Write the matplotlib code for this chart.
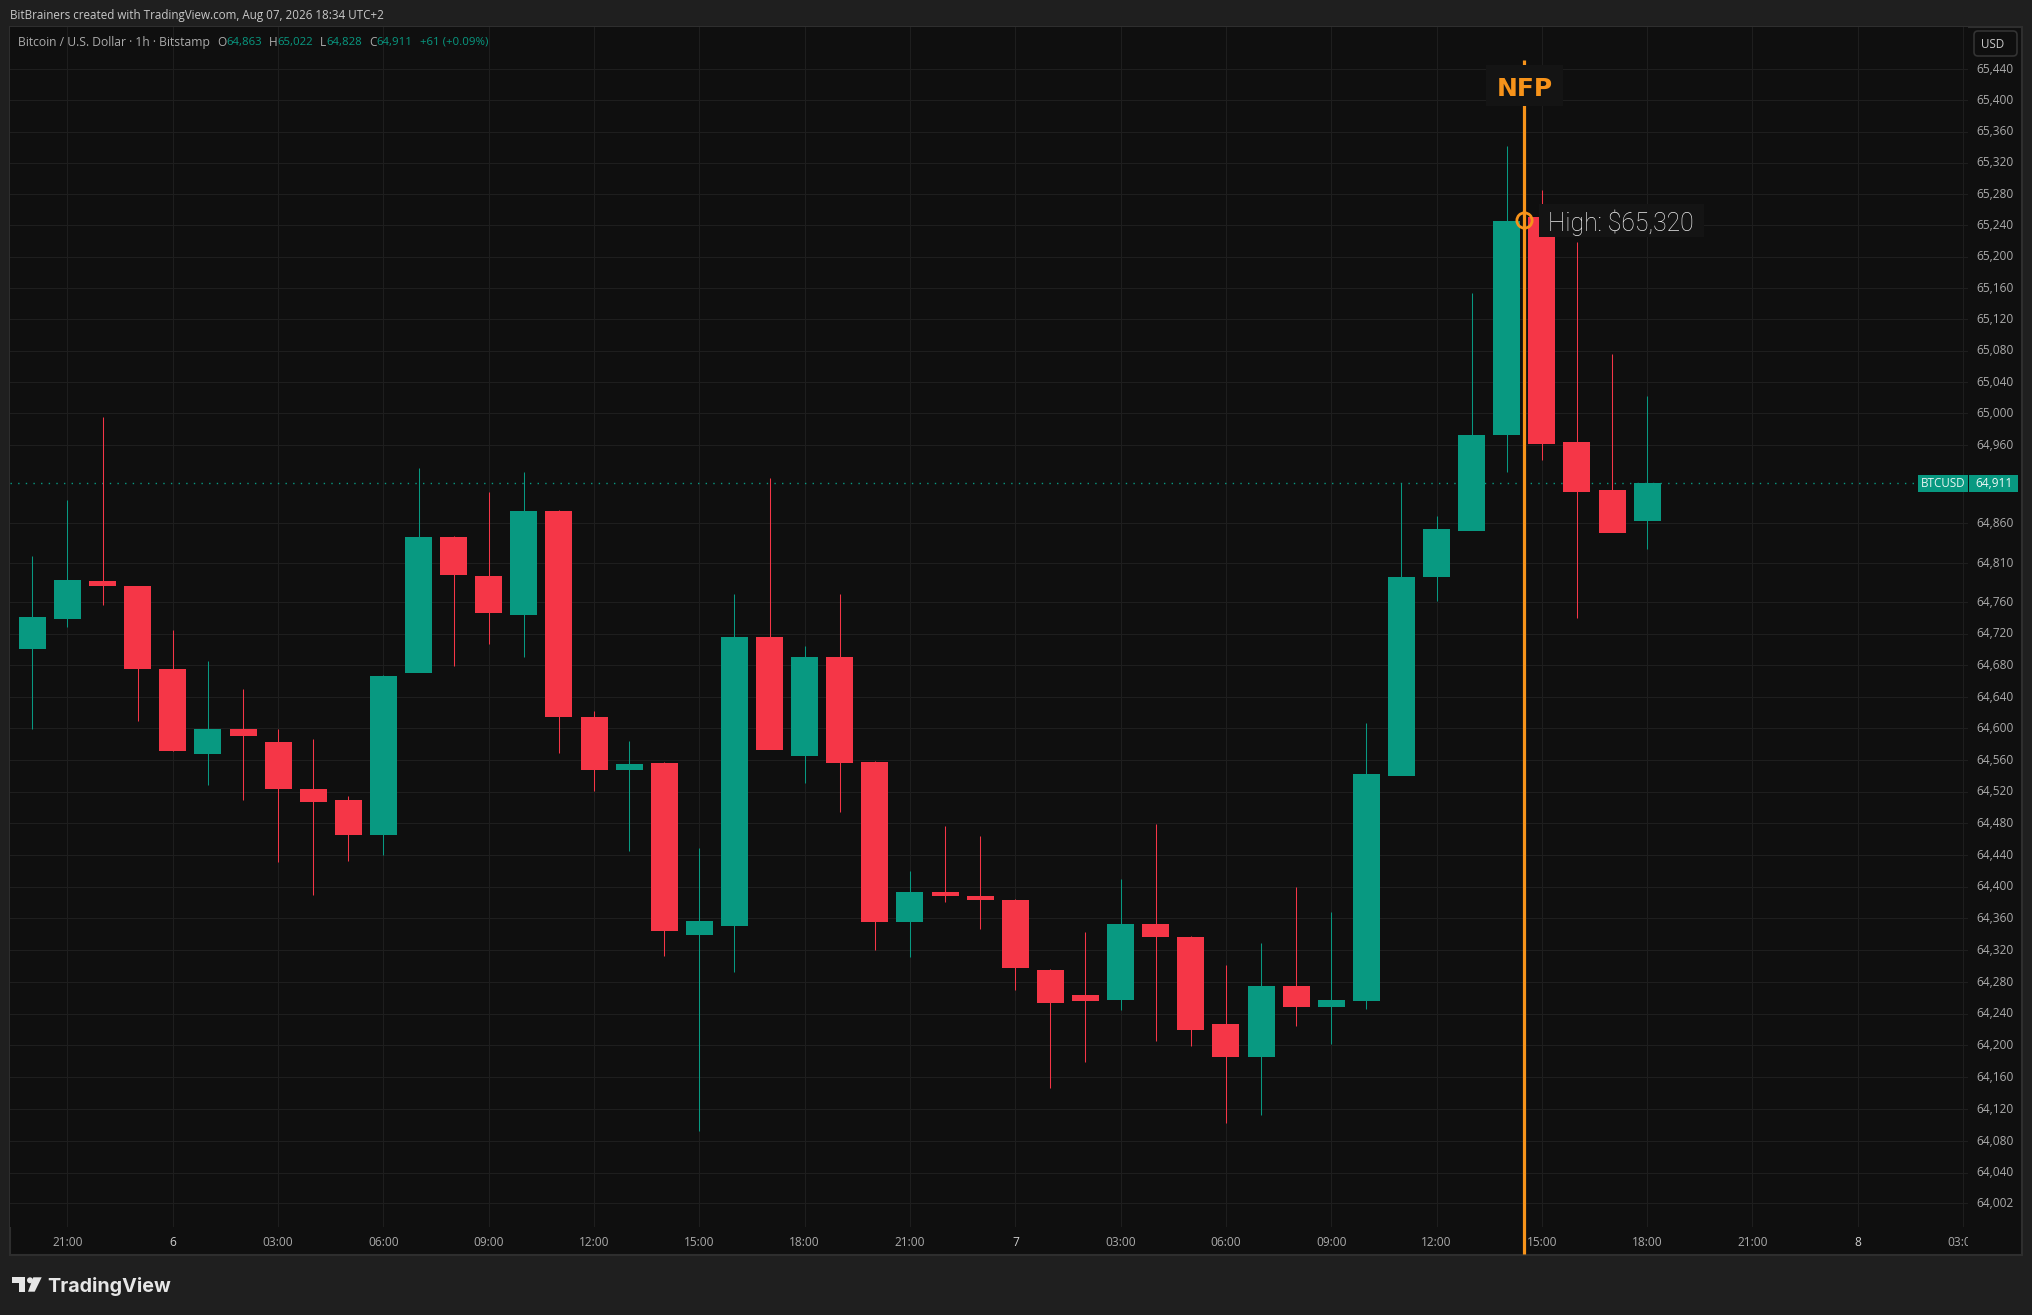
import matplotlib
matplotlib.use("Agg")
import matplotlib.pyplot as plt
from matplotlib.patches import Rectangle, FancyBboxPatch, Polygon, Circle
from matplotlib.ticker import NullLocator, NullFormatter
from matplotlib.transforms import Bbox, IdentityTransform, ScaledTranslation

W, H = 2032, 1315

# hourly candles, first one is 20:00 on the 5th
opens = [64700, 64739, 64787, 64780, 64675, 64568, 64599, 64583, 64524, 64509, 64465, 64670,
         64843, 64793, 64744, 64876, 64614, 64548, 64556, 64339, 64350, 64716, 64565, 64691,
         64558, 64355, 64393, 64388, 64383, 64295, 64264, 64257, 64353, 64337, 64227, 64186,
         64275, 64248, 64256, 64540, 64792, 64851, 64973, 65251, 64963, 64902, 64863]
highs = [64819, 64890, 64995, 64781, 64725, 64686, 64650, 64599, 64586, 64515, 64668, 64931,
         64844, 64900, 64926, 64877, 64622, 64584, 64557, 64449, 64770, 64918, 64704, 64770,
         64559, 64420, 64477, 64464, 64384, 64296, 64343, 64410, 64479, 64338, 64301, 64329,
         64399, 64368, 64607, 64911, 64870, 65154, 65341, 65285, 65219, 65076, 65022]
lows = [64599, 64729, 64756, 64610, 64572, 64528, 64510, 64431, 64389, 64433, 64440, 64671,
        64679, 64707, 64691, 64569, 64521, 64445, 64312, 64093, 64293, 64574, 64531, 64494,
        64320, 64311, 64381, 64347, 64270, 64146, 64179, 64244, 64205, 64199, 64102, 64113,
        64225, 64202, 64246, 64541, 64761, 64852, 64926, 64941, 64740, 64849, 64828]
closes = [64741, 64788, 64780, 64675, 64571, 64599, 64590, 64524, 64507, 64465, 64667, 64843,
          64795, 64746, 64876, 64614, 64548, 64555, 64344, 64357, 64716, 64573, 64691, 64556,
          64355, 64393, 64388, 64383, 64297, 64254, 64256, 64353, 64337, 64219, 64186, 64275,
          64248, 64257, 64542, 64792, 64853, 64973, 65246, 64961, 64900, 64848, 64911]

price_ticks = [65440, 65400, 65360, 65320, 65280, 65240, 65200, 65160, 65120, 65080, 65040, 65000,
               64960, 64860, 64810, 64760, 64720, 64680, 64640, 64600, 64560, 64520, 64480, 64440,
               64400, 64360, 64320, 64280, 64240, 64200, 64160, 64120, 64080, 64040, 64002]
time_ticks = [1, 4, 7, 10, 13, 16, 19, 22, 25, 28, 31, 34, 37, 40, 43, 46, 49, 52, 55]
time_labels = ["21:00", "6", "03:00", "06:00", "09:00", "12:00", "15:00", "18:00", "21:00", "7",
               "03:00", "06:00", "09:00", "12:00", "15:00", "18:00", "21:00", "8", "03:00"]

last_price = 64911
event_hour = 42.5
event_price = 65247

UP = "#089981"
DOWN = "#F53647"
ORANGE = "#F7931A"
PANE = "#0F0F0F"
CHROME = "#1F1F1F"
LABEL = "#ABABAB"
FONT = ["Open Sans", "DejaVu Sans"]

plt.rcParams["font.family"] = FONT


def put_text(x, y, s, **kw):
    kw.setdefault("va", "center")
    kw.setdefault("ha", "left")
    return fig.text(x / W, 1 - y / H, s, **kw)


def put_box(x0, y0, x1, y1, color, zorder=2):
    fig.add_artist(Rectangle((x0, H - y1), x1 - x0, y1 - y0, transform=IdentityTransform(),
                             facecolor=color, edgecolor="none", zorder=zorder))


fig = plt.figure(figsize=(W / 100, H / 100), dpi=100, facecolor=CHROME)

# pane frame
fig.add_artist(Rectangle((10, H - 1255), 2012, 1228, transform=IdentityTransform(),
                         facecolor=PANE, edgecolor="#2E2E2E", linewidth=1.5, zorder=-1))

ax = fig.add_axes([10 / W, 1 - 1227 / H, 1958 / W, 1200 / H], facecolor=PANE)
ax.set_yscale("log")
ax.set_xlim(-0.638, 55.14)
ax.set_ylim(63972, 65494)
for s in ax.spines.values():
    s.set_visible(False)

ax.yaxis.tick_right()
ax.set_yticks(price_ticks)
ax.set_yticklabels(["{:,}".format(p) for p in price_ticks])
ax.yaxis.set_minor_locator(NullLocator())
ax.yaxis.set_minor_formatter(NullFormatter())
ax.set_xticks(time_ticks)
ax.set_xticklabels(time_labels)
ax.tick_params(axis="y", length=0, pad=6, labelsize=8.6, labelcolor=LABEL)
ax.tick_params(axis="x", length=0, pad=6.5, labelsize=8.6, labelcolor=LABEL)
for t in ax.get_xticklabels():
    if t.get_text() in ("6", "7", "8"):
        t.set_color("#D0D0D0")
ax.grid(True, color="#1E1E1E", linewidth=0.75)
ax.set_axisbelow(True)

# price labels sit a touch above their grid lines
nudge = ScaledTranslation(0, 1.3 / 100, fig.dpi_scale_trans)
for t in ax.get_yticklabels():
    t.set_transform(t.get_transform() + nudge)

# last x label is cut off where the price scale starts
fig.canvas.draw()
clip = Bbox.from_extents(0, 0, 1967.5, H)
for t in ax.get_xticklabels():
    t.set_clip_box(clip)
    t.set_clip_on(True)

hours = list(range(len(opens)))
colors = [UP if c >= o else DOWN for o, c in zip(opens, closes)]
ax.vlines(hours, lows, highs, colors=colors, linewidth=0.75, zorder=3)
ax.bar(hours, [abs(c - o) for o, c in zip(opens, closes)], bottom=[min(o, c) for o, c in zip(opens, closes)],
       width=0.769, color=colors, linewidth=0, zorder=4)

ax.axhline(last_price, color=UP, linewidth=1, linestyle=(0, (1, 4.5)), zorder=2)

# event marker runs past the time scale
ax.plot([event_hour, event_hour], [-0.0225, 0.9725], transform=ax.get_xaxis_transform(),
        color=ORANGE, linewidth=2.3, clip_on=False, zorder=5, solid_capstyle="butt")
ax.plot([event_hour], [event_price], marker="o", markersize=11, markerfacecolor="none",
        markeredgecolor=ORANGE, markeredgewidth=2, zorder=6)

put_box(1486, 65, 1562.5, 106, "#141414")
put_text(1524.5, 96, "NFP", color=ORANGE, fontsize=18, fontweight="bold", ha="center", va="baseline",
         family=["DejaVu Sans"], zorder=3)
put_box(1539, 204, 1704, 237, "#141414")
put_text(1548, 230.7, "High: $65,320", color="#EDEDED", fontsize=17.8, fontweight="light", va="baseline",
         family=["Roboto", "DejaVu Sans"], zorder=3)

# last price tags
put_box(1918, 475, 1968, 492, UP)
put_box(1969, 475, 2018, 492, UP)
put_text(1943, 483.5, "BTCUSD", color="#E8F5F2", fontsize=8.4, ha="center", zorder=3)
put_text(1993.5, 483.5, "{:,}".format(last_price), color="#F0F8F6", fontsize=8.6, ha="center", zorder=3)

# currency button
fig.add_artist(FancyBboxPatch((1975, H - 55), 41, 23, boxstyle="round,pad=1,rounding_size=4",
                              transform=IdentityTransform(), facecolor=PANE, edgecolor="#333333",
                              linewidth=1.2, zorder=2))
put_text(1981, 45, "USD", color="#C8C8C8", fontsize=8.4, zorder=3)

# header and legend
put_text(10, 15, "BitBrainers created with TradingView.com, Aug 07, 2026 18:34 UTC+2", color="#C8C8C8", fontsize=8.35)
put_text(18, 42.5, "Bitcoin / U.S. Dollar \u00b7 1h \u00b7 Bitstamp", color="#ABABAB", fontsize=8.7, zorder=3)
for x, s in [(217, "O"), (268.6, "H"), (320, "L"), (369, "C")]:
    put_text(x, 42.5, s, color="#ABABAB", fontsize=8.6, zorder=3)
for x, s in [(226, "64,863"), (277, "65,022"), (326, "64,828"), (376, "64,911"), (420, "+61 (+0.09%)")]:
    put_text(x, 42.5, s, color=UP, fontsize=8.2, zorder=3)

# logo
logo = "#E6E6E6"
T_pts = [(12, 1277.3), (25.3, 1277.3), (25.3, 1291.7), (19.3, 1291.7), (19.3, 1283.3), (12, 1283.3)]
slash_pts = [(33.3, 1277.3), (41.7, 1277.3), (34.7, 1291.7), (28, 1291.7)]
for pts in (T_pts, slash_pts):
    fig.add_artist(Polygon([(x, H - y) for x, y in pts], transform=IdentityTransform(), facecolor=logo,
                           edgecolor="none", zorder=2))
fig.add_artist(Circle((30, H - 1280.3), 3, transform=IdentityTransform(), facecolor=logo, edgecolor="none", zorder=2))
put_text(47, 1291.7, "TradingView", color=logo, fontsize=14.2, fontweight="bold", va="baseline",
         family=["Inter", "DejaVu Sans"])

fig.savefig("out.png", dpi=100, facecolor=CHROME)
